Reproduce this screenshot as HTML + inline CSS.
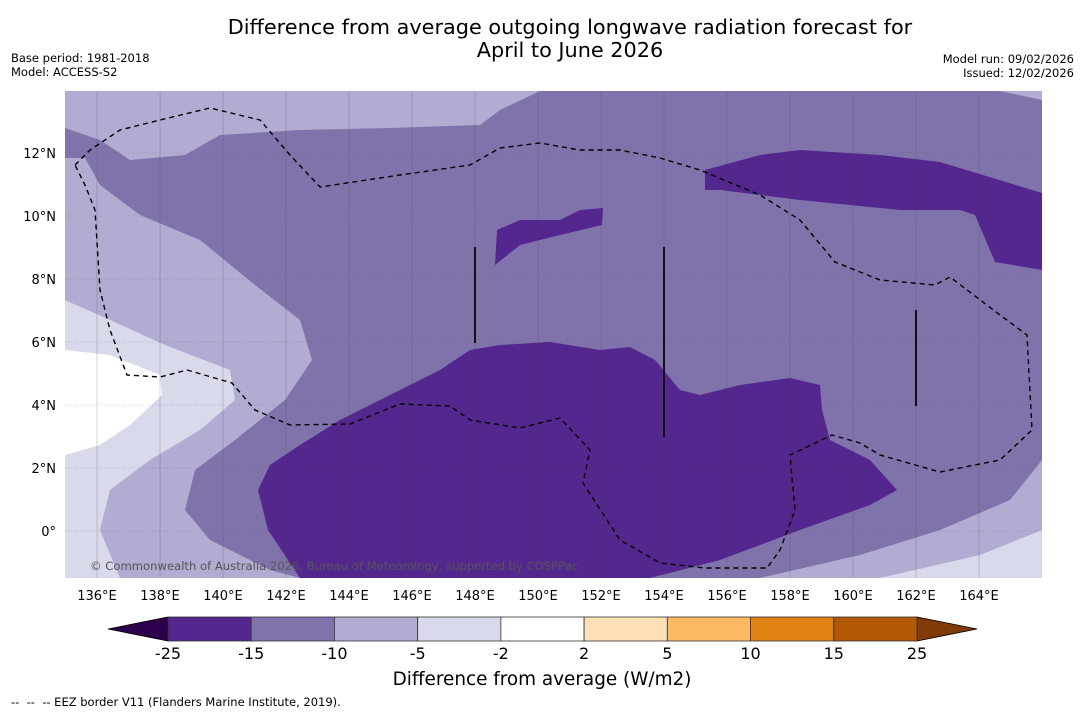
<!DOCTYPE html>
<html><head><meta charset="utf-8"><style>
body{margin:0;background:#fff;font-family:"DejaVu Sans","Liberation Sans",sans-serif}
svg{display:block}
</style></head><body>
<svg width="1085" height="713" viewBox="0 0 1085 713">
<text x="570" y="34" font-size="20.8" text-anchor="middle">Difference from average outgoing longwave radiation forecast for</text>
<text x="570" y="57" font-size="20.8" text-anchor="middle">April to June 2026</text>
<text x="11" y="62" font-size="11.5">Base period: 1981-2018</text>
<text x="11" y="76" font-size="11.5">Model: ACCESS-S2</text>
<text x="1074" y="63" font-size="11.5" text-anchor="end">Model run: 09/02/2026</text>
<text x="1074" y="77" font-size="11.5" text-anchor="end">Issued: 12/02/2026</text>
<defs><clipPath id="mc"><rect x="65" y="91" width="977" height="487"/></clipPath></defs>
<g clip-path="url(#mc)">
<rect x="65" y="91" width="977" height="487" fill="#8073ac"/>
<polygon fill="#b2abd2" points="65,91 540,91 500,110 480,125 390,128 300,130 220,135 185,155 130,160 100,140 65,128"/>
<polygon fill="#b2abd2" points="1000,91 1042,91 1042,100"/>
<polygon fill="#b2abd2" points="65,158 85,158 100,185 140,215 200,240 255,285 300,320 312,360 285,400 235,440 195,470 185,510 210,540 270,570 300,578 760,578 860,555 940,530 1010,500 1042,460 1042,578 65,578"/>
<polygon fill="#d8daeb" points="65,300 110,320 165,345 230,370 235,400 200,430 150,460 110,490 100,530 120,578 65,578"/>
<polygon fill="#d8daeb" points="880,578 980,555 1042,530 1042,578"/>
<polygon fill="#ffffff" points="65,350 110,355 160,375 162,395 130,425 100,445 65,455"/>
<polygon fill="#54278f" points="258,490 270,465 300,445 340,420 400,390 440,370 470,350 500,345 550,342 600,350 630,347 655,360 680,390 700,395 740,385 790,378 820,385 822,410 830,440 870,460 897,490 870,505 800,530 720,560 650,578 300,578 268,530"/>
<polygon fill="#54278f" points="705,170 760,155 800,150 880,155 940,162 1042,193 1042,270 995,262 975,215 960,210 900,210 800,200 720,190 705,190"/>
<polygon fill="#54278f" points="495,265 497,230 520,220 560,220 580,210 603,208 602,225 560,235 520,245"/>
<g id="grid" stroke="#444" stroke-width="0.5" opacity="0.45"></g>
<polyline fill="none" stroke="#000" stroke-width="1.4" stroke-dasharray="5,4" points="75,165 90,150 120,130 160,120 210,108 260,120 290,155 320,187 400,175 470,165 500,148 540,143 580,150 620,150 660,158 700,170 760,195 800,220 835,262 880,280 935,285 950,277 1000,315 1027,335 1032,430 1000,460 940,472 880,455 860,443 832,435 790,455 795,510 780,550 767,568 705,568 660,563 620,540 583,483 590,450 560,418 520,428 470,420 450,406 400,404 350,424 290,425 255,410 232,383 187,370 160,377 127,375 110,330 100,290 95,210 85,185 75,165"/>
<line x1="475" y1="247" x2="475" y2="343" stroke="#111" stroke-width="2"/>
<line x1="664" y1="247" x2="664" y2="437" stroke="#111" stroke-width="2"/>
<line x1="916" y1="310" x2="916" y2="406" stroke="#111" stroke-width="2"/>
<text x="90" y="570" font-size="11.6" fill="#555">© Commonwealth of Australia 2026, Bureau of Meteorology, supported by COSPPac</text>
</g>
<g id="axes" font-size="13"></g>
<g id="cbar"></g>
<text x="542" y="685" font-size="18.4" text-anchor="middle">Difference from average (W/m2)</text>
<text x="11" y="706" font-size="11.5" xml:space="preserve">--  --  -- EEZ border V11 (Flanders Marine Institute, 2019).</text>
</svg>
<script>
const lonTicks=[136,138,140,142,144,146,148,150,152,154,156,158,160,162,164];
const latTicks=[0,2,4,6,8,10,12];
const levels=["-25","-15","-10","-5","-2","2","5","10","15","25"];
const levelColors=["#54278f","#8073ac","#b2abd2","#d8daeb","#ffffff","#fee0b6","#fdb863","#e08214","#b35806"];
const ns="http://www.w3.org/2000/svg";
const x=lon=>65.5+(lon-135)*31.5;
const y=lat=>531-lat*31.5;
const grid=document.getElementById('grid'),axes=document.getElementById('axes'),cb=document.getElementById('cbar');
function mk(tag,at,parent){const e=document.createElementNS(ns,tag);for(const k in at)e.setAttribute(k,at[k]);parent.appendChild(e);return e;}
lonTicks.forEach(l=>{
 const g=mk('line',{x1:x(l),x2:x(l),y1:91,y2:578},grid);
 
 
 const t=mk('text',{x:x(l),y:600,'text-anchor':'middle'},axes);t.textContent=l+'°E';
 
 
});
latTicks.forEach(l=>{
 const g=mk('line',{x1:65,x2:1042,y1:y(l),y2:y(l),'stroke-dasharray':'1,2'},grid);
 
 
 const t=mk('text',{x:56,y:y(l)+5,'text-anchor':'end'},axes);t.textContent=l===0?'0°':l+'°N';
 
 
});
const cx0=168,cx1=917,cy=617,ch=24,w=(cx1-cx0)/levelColors.length;
const lt=mk('polygon',{points:`108,${cy+ch/2} ${cx0},${cy} ${cx0},${cy+ch}`,fill:'#2d004b',stroke:'#000','stroke-width':0.8},cb);


const rt=mk('polygon',{points:`977,${cy+ch/2} ${cx1},${cy} ${cx1},${cy+ch}`,fill:'#7f3b08',stroke:'#000','stroke-width':0.8},cb);


levelColors.forEach((c,i)=>{
 const r=mk('rect',{x:cx0+i*w,y:cy,width:w,height:ch,fill:c,stroke:'#333','stroke-width':0.8},cb);
 
 
});
levels.forEach((s,i)=>{
 const t=mk('text',{x:cx0+i*w,y:659,'text-anchor':'middle','font-size':16},cb);t.textContent=s;
 
 
});
</script>
</body></html>
